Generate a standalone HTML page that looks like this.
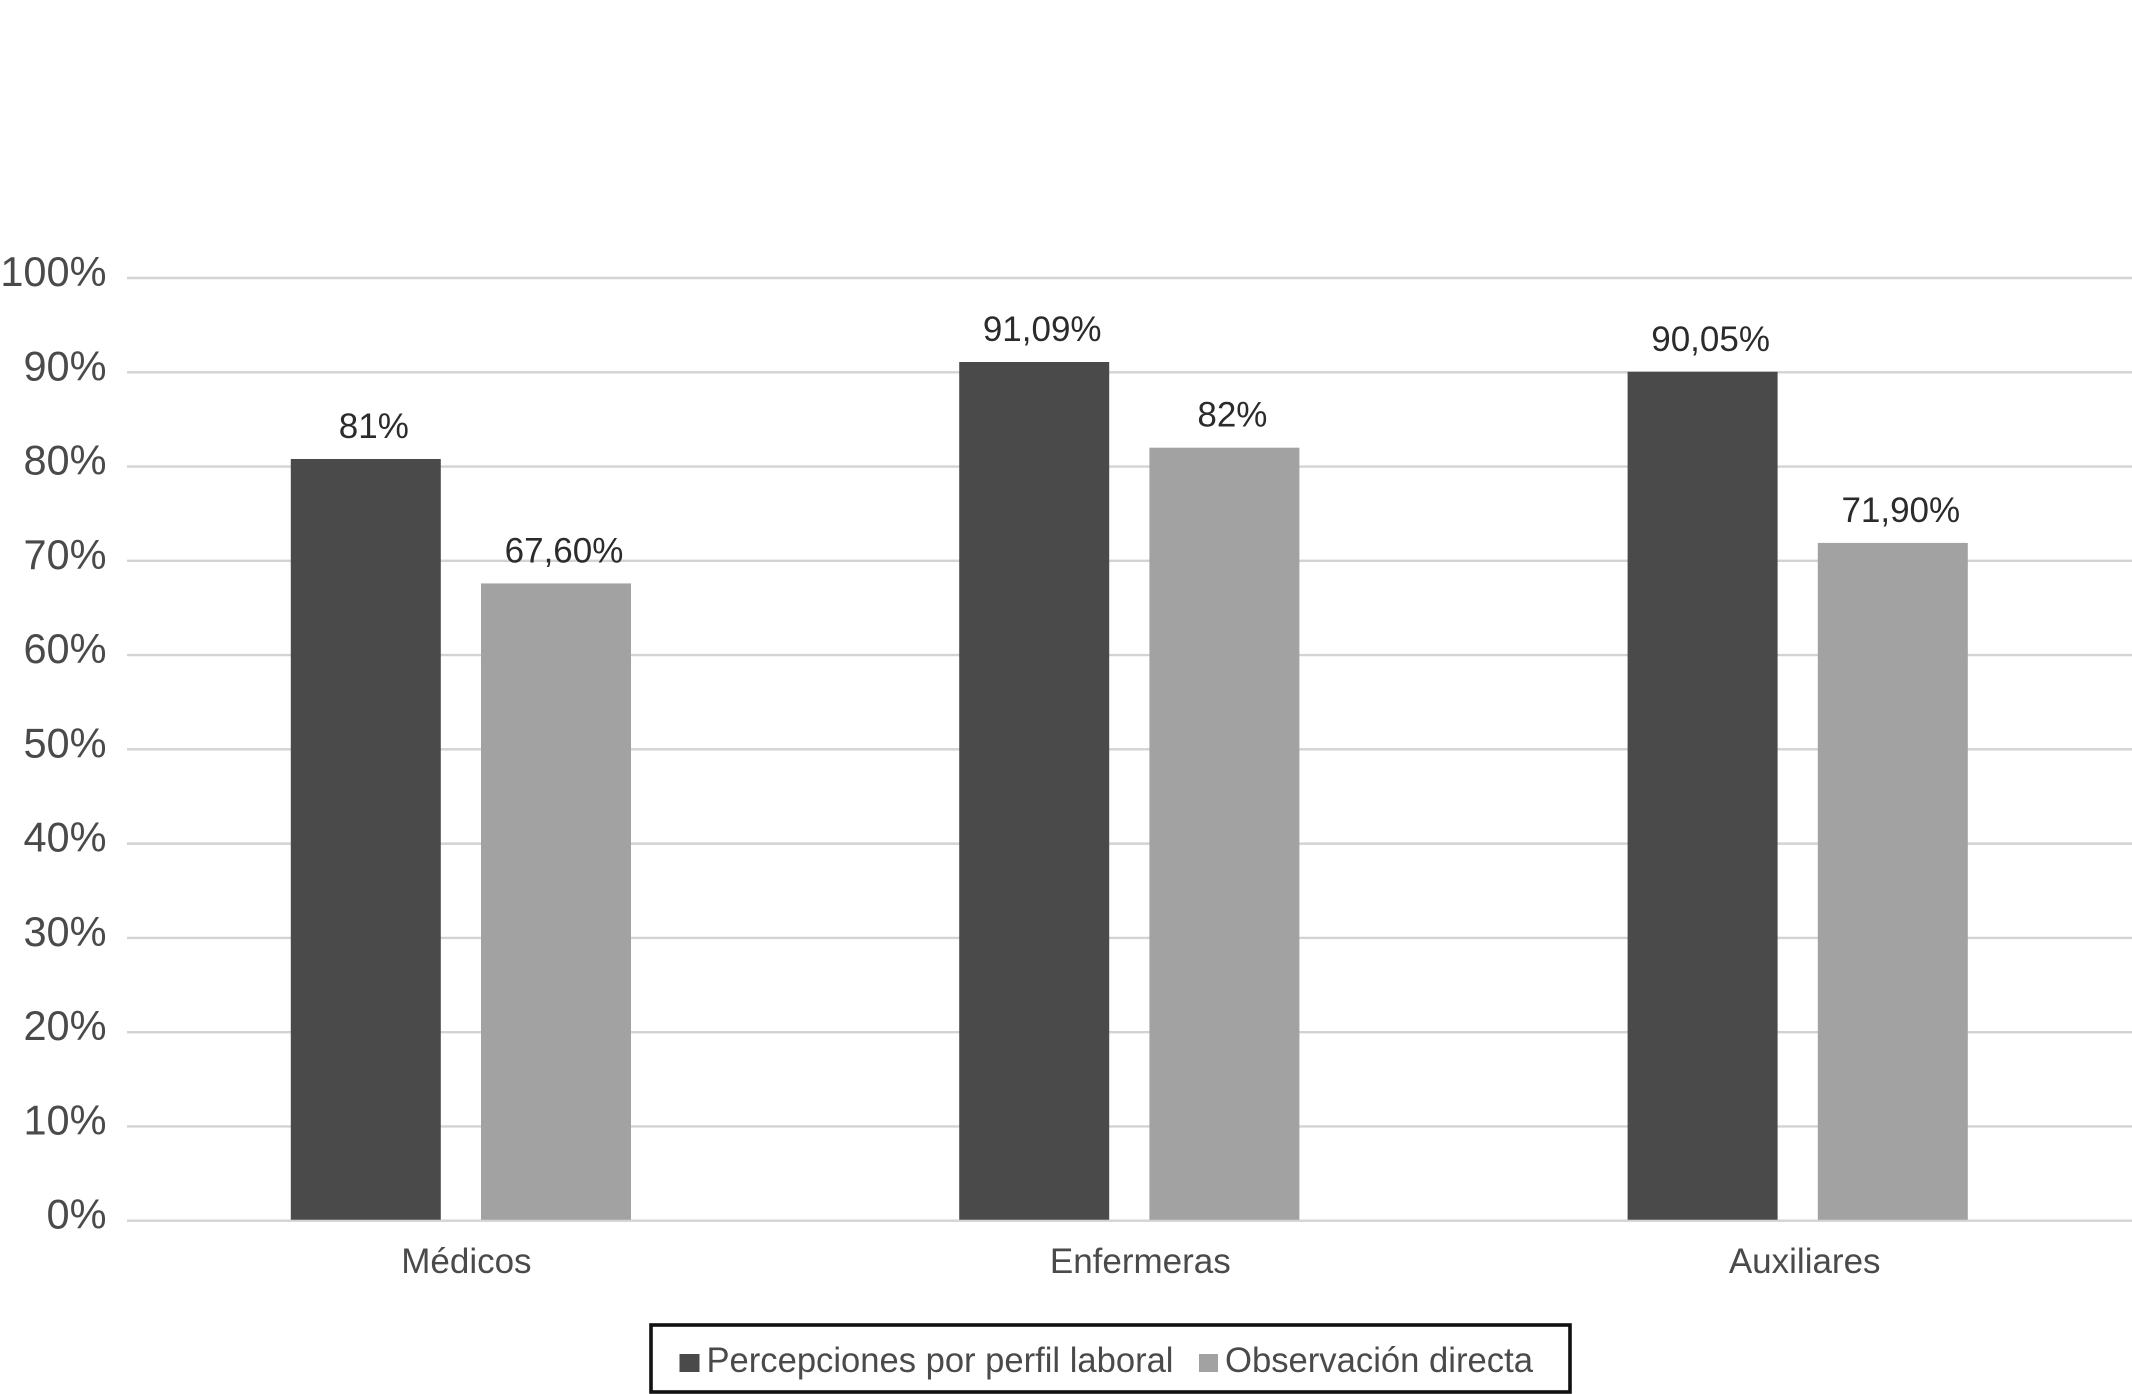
<!DOCTYPE html>
<html lang="es">
<head>
<meta charset="utf-8">
<title>Percepciones por perfil laboral y observación directa</title>
<style>
html,body{margin:0;padding:0;background:#fff;width:2132px;height:1394px;overflow:hidden}
svg{display:block;font-family:"Liberation Sans",sans-serif}
</style>
</head>
<body>
<svg id="chart" xmlns="http://www.w3.org/2000/svg" width="2132" height="1394" viewBox="0 0 2132 1394">
  <rect x="0" y="0" width="2132" height="1394" fill="#ffffff"/>
  <g id="grid"></g>
  <g id="yticks"></g>
  <g id="bars"></g>
  <g id="values"></g>
  <g id="xlabels"></g>
  <g>
    <rect x="651" y="1325" width="919" height="67" fill="#ffffff" stroke="#111111" stroke-width="3.6"/>
    <rect x="679.5" y="1354" width="20" height="18" fill="#4a4a4a"/>
    <text x="706.5" y="1372" font-size="35" fill="#4a4a4a" textLength="467" lengthAdjust="spacingAndGlyphs">Percepciones por perfil laboral</text>
    <rect x="1199" y="1354" width="19" height="18" fill="#a2a2a2"/>
    <text x="1225" y="1372" font-size="35" fill="#4a4a4a" textLength="308" lengthAdjust="spacingAndGlyphs">Observación directa</text>
  </g>
</svg>
<script>
var categories = ["Médicos", "Enfermeras", "Auxiliares"];
var percepcionesValues = [80.8, 91.09, 90.05];
var observacionValues = [67.6, 82, 71.9];
var percepcionesLabels = ["81%", "91,09%", "90,05%"];
var observacionLabels = ["67,60%", "82%", "71,90%"];
var yTickValues = [0, 10, 20, 30, 40, 50, 60, 70, 80, 90, 100];

var NS = "http://www.w3.org/2000/svg";
var plotLeft = 127, plotRight = 2132, y0 = 1220.7, y100 = 278;
var firstBarLeft = 290.8, groupStep = 668.4, barWidth = 150, barGap = 40.2;

function yScale(v) { return y0 + (y100 - y0) * v / 100; }
function barX(groupIndex, seriesIndex) {
  return firstBarLeft + groupIndex * groupStep + seriesIndex * (barWidth + barGap);
}
function groupCenter(groupIndex) {
  return barX(groupIndex, 0) + barWidth + barGap / 2;
}
function make(tag, attrs, text) {
  var el = document.createElementNS(NS, tag);
  for (var k in attrs) el.setAttribute(k, attrs[k]);
  if (text !== undefined) el.textContent = text;
  return el;
}

var gridGroup = document.getElementById("grid");
var tickGroup = document.getElementById("yticks");
yTickValues.forEach(function (t) {
  var line = make("line", { x1: plotLeft, x2: plotRight, y1: yScale(t), y2: yScale(t), stroke: "#d3d3d3", "stroke-width": 2.4 });
  
  
  gridGroup.appendChild(line);
  var label = make("text", { x: 106.5, y: yScale(t) + 8, "text-anchor": "end", "font-size": 41.5, fill: "#4a4a4a" }, t + "%");
  
  
  tickGroup.appendChild(label);
});

var barGroup = document.getElementById("bars");
var valueGroup = document.getElementById("values");
function drawSeries(values, labels, seriesIndex, color) {
  values.forEach(function (v, i) {
    var x = barX(i, seriesIndex);
    var top = yScale(v);
    var bar = make("rect", { x: x, y: top, width: barWidth, height: y0 - 1 - top, fill: color });
    
    
    barGroup.appendChild(bar);
    var label = make("text", { x: x + barWidth / 2 + 8, y: top - 21, "text-anchor": "middle", "font-size": 35, fill: "#2b2b2b" }, labels[i]);
    
    
    valueGroup.appendChild(label);
  });
}
drawSeries(percepcionesValues, percepcionesLabels, 0, "#4a4a4a");
drawSeries(observacionValues, observacionLabels, 1, "#a2a2a2");

var xGroup = document.getElementById("xlabels");
var categoryNudge = [5.5, 11, 7];
categories.forEach(function (c, i) {
  var label = make("text", { x: groupCenter(i) + categoryNudge[i], y: 1273, "text-anchor": "middle", "font-size": 35, fill: "#4a4a4a" }, c);
  
  
  xGroup.appendChild(label);
});
</script>
</body>
</html>
